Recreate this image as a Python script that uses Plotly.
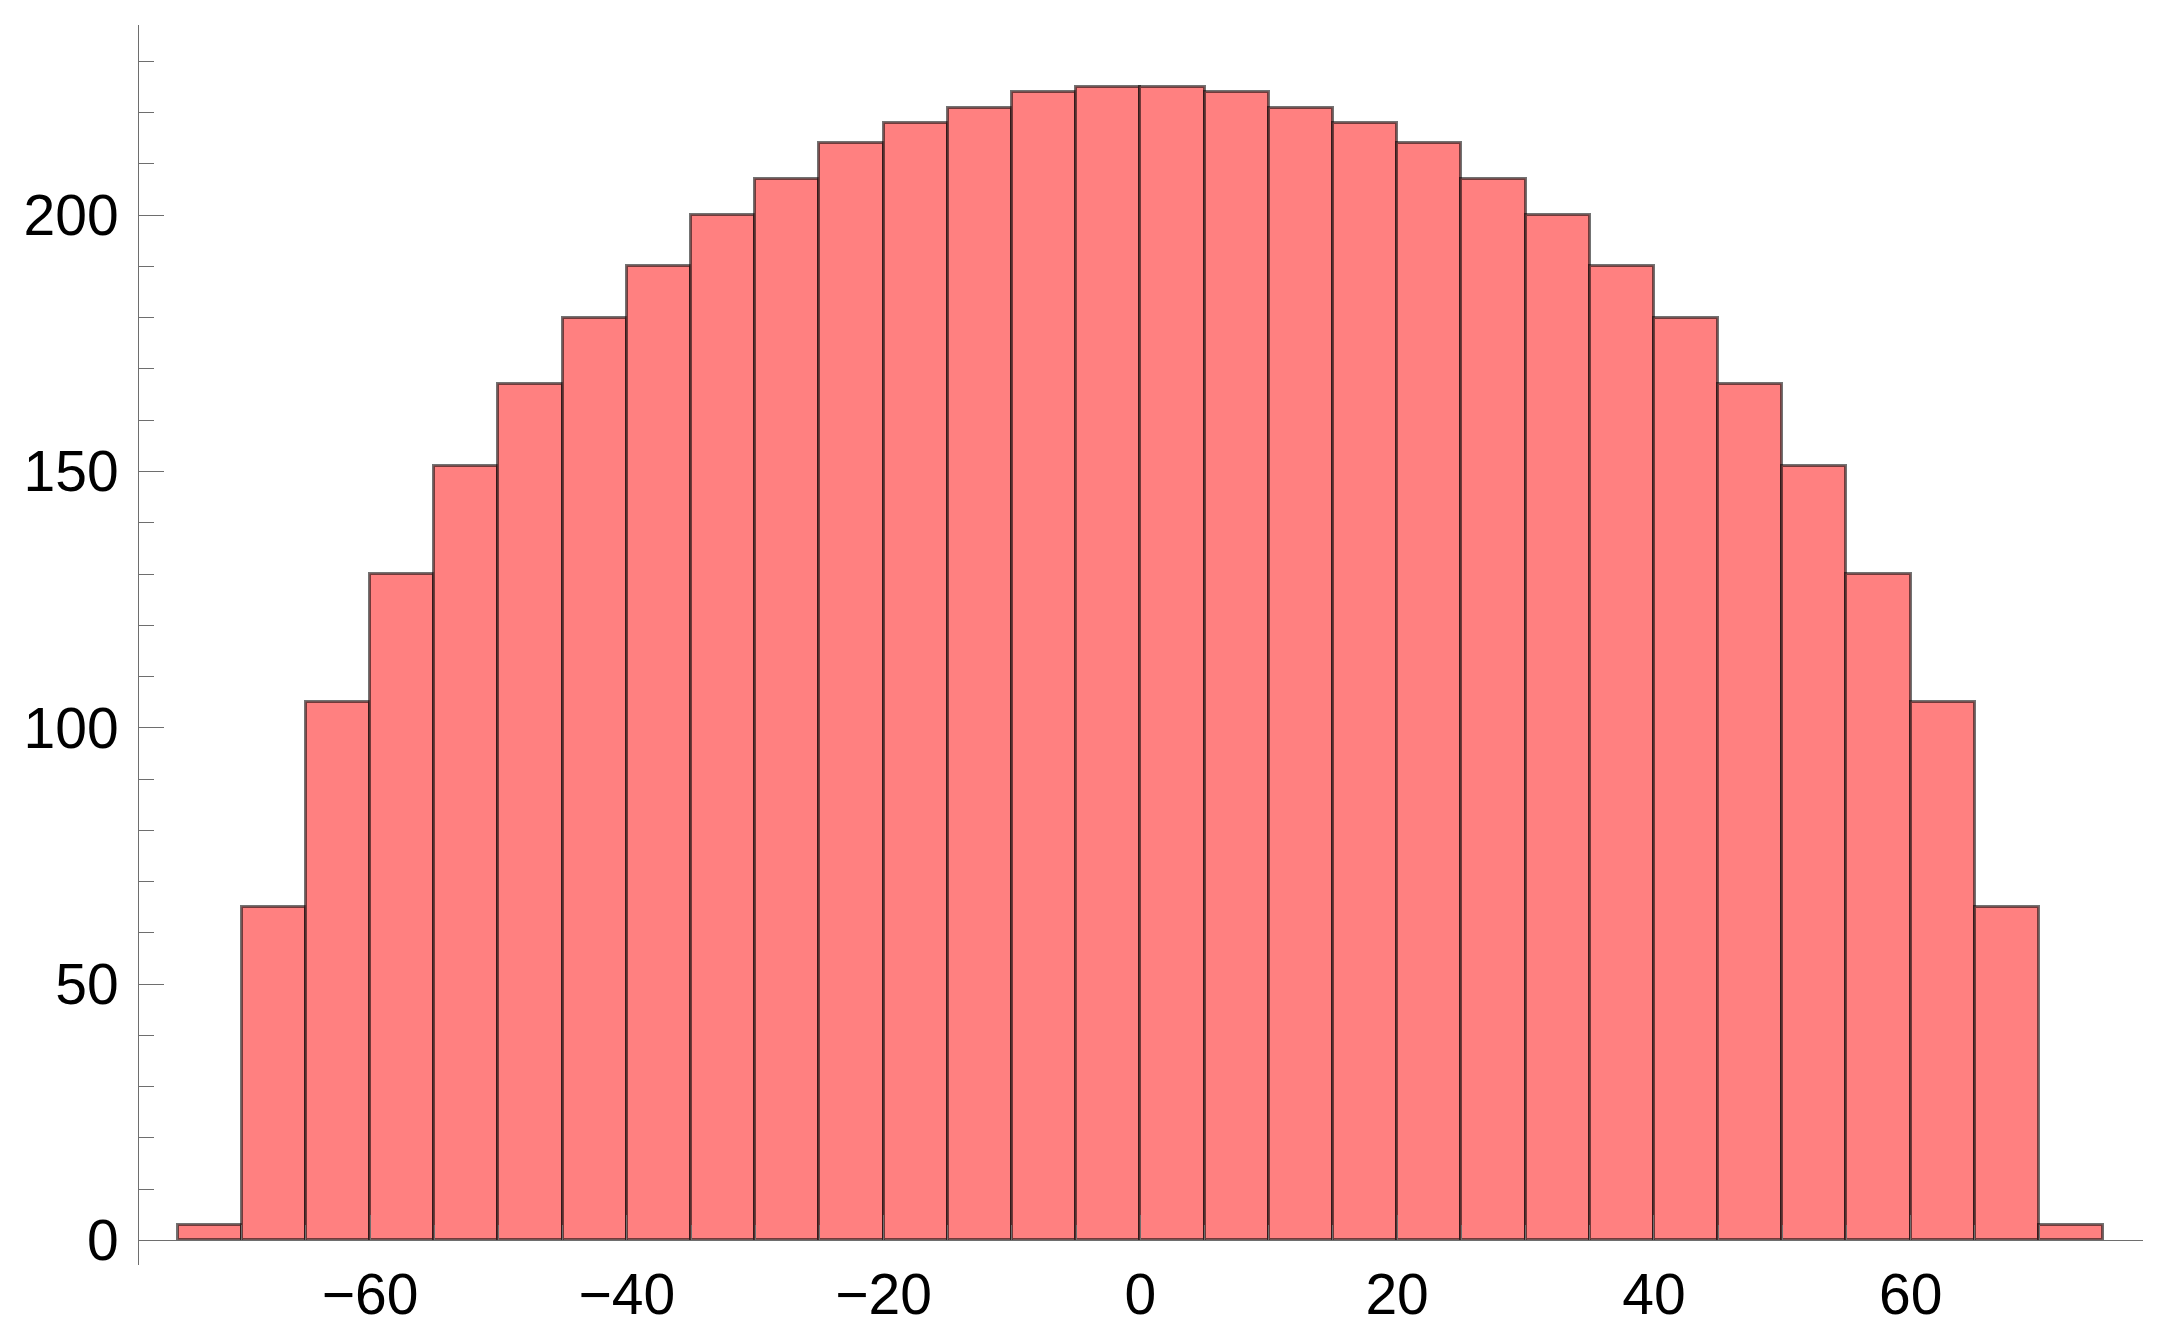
import plotly.graph_objects as go

# Histogram data: bin left edges (width 5) and counts
bin_lefts = [-75, -70, -65, -60, -55, -50, -45, -40, -35, -30, -25, -20, -15, -10, -5,
             0, 5, 10, 15, 20, 25, 30, 35, 40, 45, 50, 55, 60, 65, 70]
bin_width = 5
counts = [3, 65, 105, 130, 151, 167, 180, 190, 200, 207, 214, 218, 221, 224, 225,
          225, 224, 221, 218, 214, 207, 200, 190, 180, 167, 151, 130, 105, 65, 3]

x_tickvals = [-60, -40, -20, 0, 20, 40, 60]
x_ticktext = ["\u221260", "\u221240", "\u221220", "0", "20", "40", "60"]
y_tickvals = [0, 50, 100, 150, 200]
y_ticktext = ["0", "50", "100", "150", "200"]

centers = [b + bin_width / 2 for b in bin_lefts]

fig = go.Figure(
    go.Bar(
        x=centers,
        y=counts,
        width=[bin_width] * len(centers),
        marker=dict(color="#ff8080", line=dict(color="rgba(0,0,0,0.55)", width=3)),
        showlegend=False,
    )
)

x_range = [-78.0, 78.1]
y_range = [-4.8, 237.1]
axis_color = "#6e6e6e"
font = dict(family="Liberation Sans, Arial, sans-serif", size=57, color="black")

fig.update_layout(
    width=2151,
    height=1327,
    margin=dict(l=131, r=16, t=17, b=70),
    plot_bgcolor="white",
    paper_bgcolor="white",
    bargap=0,
    font=font,
    xaxis=dict(
        range=x_range,
        anchor="free",
        position=(0 - y_range[0]) / (y_range[1] - y_range[0]),
        automargin=False,
        showgrid=False,
        zeroline=False,
        showline=True,
        linecolor=axis_color,
        linewidth=1,
        ticks="inside",
        ticklen=25,
        tickwidth=1,
        tickcolor=axis_color,
        tickvals=x_tickvals,
        ticktext=x_ticktext,
        tickfont=font,
        ticklabelstandoff=4,
        minor=dict(dtick=5, tick0=0, ticks="inside", ticklen=15, tickcolor=axis_color, tickwidth=1, showgrid=False),
    ),
    yaxis=dict(
        range=y_range,
        automargin=False,
        showgrid=False,
        zeroline=False,
        showline=True,
        linecolor=axis_color,
        linewidth=1,
        ticks="inside",
        ticklen=25,
        tickwidth=1,
        tickcolor=axis_color,
        tickvals=y_tickvals,
        ticktext=y_ticktext,
        tickfont=font,
        ticklabelstandoff=8,
        minor=dict(dtick=10, tick0=0, ticks="inside", ticklen=15, tickcolor=axis_color, tickwidth=1, showgrid=False),
    ),
)

fig.write_html("out.html")
